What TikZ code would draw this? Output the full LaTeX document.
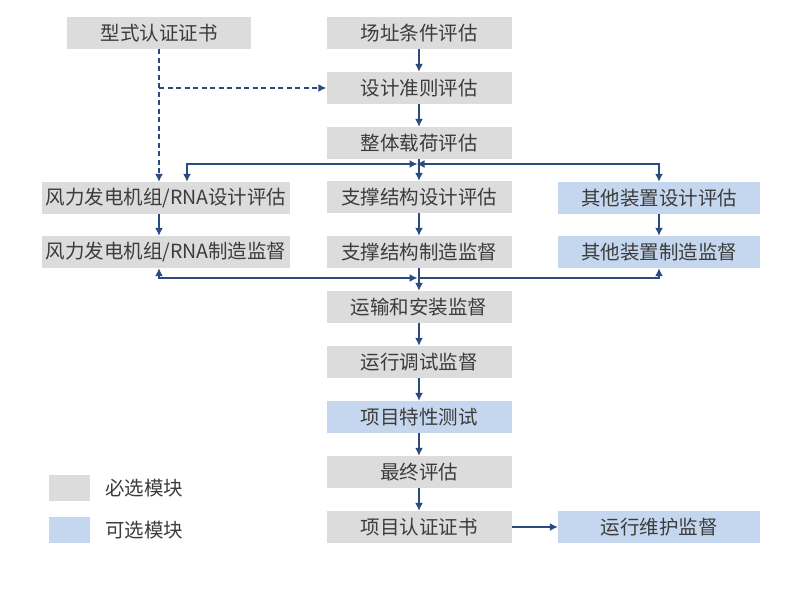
\documentclass[tikz,border=0pt]{standalone}
\usepackage{fontspec}
\setmainfont{Noto Sans CJK SC}
\usepackage{tikz}
\usetikzlibrary{positioning,arrows,arrows.meta,calc}
\definecolor{boxgray}{HTML}{DCDCDC}
\definecolor{boxblue}{HTML}{C5D7EE}
\definecolor{linkblue}{HTML}{2B4A80}
\definecolor{textgray}{HTML}{3C3C3C}
\tikzset{
    on grid,
    node distance=55pt,
    block/.style = {
        fill=boxgray,
        shape=rectangle,
        minimum height=32pt,
        minimum width=185pt,
        inner sep=0pt,
        text=textgray,
        font=\fontsize{19.5}{22}\selectfont
    },
    optblock/.style = {
        block,
        fill=boxblue
    },
    keybox/.style = {
        shape=rectangle,
        minimum height=26pt,
        minimum width=41pt,
        inner sep=0pt
    },
    empty/.style = {
        shape=rectangle,
        inner sep=0pt,
        text=textgray,
        font=\fontsize{19.5}{22}\selectfont
    },
    link/.style = {
        draw=linkblue,
        line width=1.5pt,
        color=linkblue
    },
    >={Latex[length=8pt,width=8pt]},
}
\begin{document}
\begin{tikzpicture}[x=1pt,y=-1pt]
            \useasboundingbox[fill=white] (0,0) rectangle (800,590);

            % middle column
            \node[block] (site) at (419,33) {场址条件评估};
            \node[block, below=of site] (crit) {设计准则评估};
            \node[block, below=of crit] (load) {整体载荷评估};
            \node[block] (supd) at (419,197) {支撑结构设计评估};
            \node[block, below=of supd] (supm) {支撑结构制造监督};
            \node[block, below=of supm] (trans) {运输和安装监督};
            \node[block, below=of trans] (comm) {运行调试监督};
            \node[optblock, below=of comm] (test) {项目特性测试};
            \node[block, below=of test] (final) {最终评估};
            \node[block, below=of final] (cert) {项目认证证书};

            % left and right columns
            \node[block, minimum width=184pt] (type) at (159,33) {型式认证证书};
            \node[block, minimum width=248pt] (rnad) at (166,198) {风力发电机组/RNA设计评估};
            \node[block, minimum width=248pt] (rnam) at (166,252) {风力发电机组/RNA制造监督};
            \node[optblock, minimum width=202pt] (othd) at (659,198) {其他装置设计评估};
            \node[optblock, minimum width=202pt] (othm) at (659,252) {其他装置制造监督};
            \node[optblock, minimum width=202pt] (oper) at (659,527) {运行维护监督};

            % legend
            \node[keybox, fill=boxgray] (keymust) at (69.5,488) {};
            \node[keybox, fill=boxblue] (keyopt) at (69.5,530) {};
            \node[empty, right=15pt of keymust.east, anchor=west] (txtmust) {必选模块};
            \node[empty, right=15pt of keyopt.east, anchor=west] (txtopt) {可选模块};

            \coordinate (j1) at (419,164);
            \coordinate (j2) at (419,278);

            \path[link, ->] (site) -- (crit);
            \path[link, ->] (crit) -- (load);
            \path[link, ->] (load) -- (supd);
            \path[link, ->] (supd) -- (supm);
            \path[link, ->] (supm) -- (trans);
            \path[link, ->] (trans) -- (comm);
            \path[link, ->] (comm) -- (test);
            \path[link, ->] (test) -- (final);
            \path[link, ->] (final) -- (cert);
            \path[link, ->] (cert) -- (oper);
            \path[link, ->] (type.south |- rnad.south) -- (type.south |- rnam.north);
            \path[link, ->] (othd) -- (othm);

            \path[link, dash pattern=on 5pt off 3.5pt, ->] (type) -- (type.south |- rnad.north);
            \path[link, dash pattern=on 5pt off 3.5pt, ->] (type.south |- crit) -- (crit.west);

            \path[link, <->, shorten >=1.5pt] (rnad.north -| 187,0) |- (j1);
            \path[link, <->, shorten >=-2.5pt] (othd) |- (j1);
            \path[link, <->, shorten >=1.5pt] (rnam.south -| type.south) |- (j2);
            \path[link, ->] (j2) -| (othm);
        \end{tikzpicture}
\end{document}
